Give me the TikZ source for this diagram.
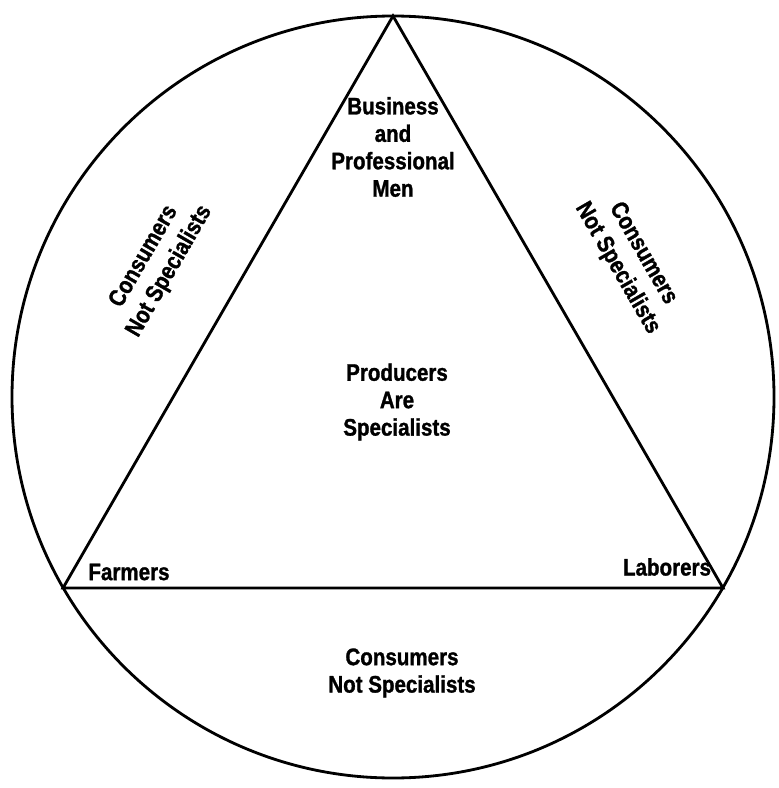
\documentclass[tikz,border=0pt]{standalone}
\usepackage{fontspec}
\setmainfont{Liberation Sans}[FakeStretch=0.86, BoldFeatures={FakeBold=1.2}]
\usetikzlibrary{positioning, calc}

\begin{document}
\begin{tikzpicture}[
    x=0.025cm, y=-0.025cm,
    outline/.style={line width=2pt},
    grouplabel/.style={font=\bfseries\fontsize{17}{19.5}\selectfont, align=center, inner sep=0pt},
    sidelabel/.style={font=\bfseries\fontsize{17}{21}\selectfont, align=center, inner sep=0pt},
    cornerlabel/.style={font=\bfseries\fontsize{17}{19.5}\selectfont, inner sep=0pt}
  ]
  \useasboundingbox (0,0) rectangle (778,788);

  % circle and inscribed triangle
  \coordinate (ctr) at (393, 397);
  \coordinate (apex) at (393, 16);
  \coordinate (farm) at (63, 588);
  \coordinate (lab) at (723, 588);

  \draw[outline] (ctr) circle (381);
  \draw[outline, line join=miter] (apex) -- (farm) -- (lab) -- cycle;

  % groups inside the triangle
  \node[grouplabel] (business) at (393, 147) {Business\\and\\Professional\\Men};
  \node[grouplabel] (producers) at (397, 402) {Producers\\Are\\Specialists};
  \node[cornerlabel] (farmers) at (129, 572) {Farmers};
  \node[cornerlabel] (laborers) at (667, 567) {Laborers};

  % consumers outside the triangle
  \node[sidelabel, rotate=60] (consleft) at (157, 264) {Consumers\\Not Specialists};
  \node[sidelabel, rotate=-60] (consright) at (630, 261) {Consumers\\Not Specialists};
  \node[grouplabel] (consbottom) at (402, 673) {Consumers\\Not Specialists};
\end{tikzpicture}
\end{document}
